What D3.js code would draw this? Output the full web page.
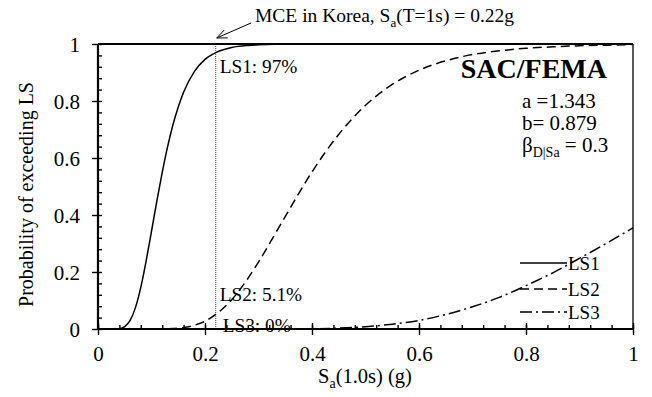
<!DOCTYPE html>
<html>
<head>
<meta charset="utf-8">
<script src="https://cdn.jsdelivr.net/npm/d3@7"></script>
<style>
  html, body { margin: 0; padding: 0; background: #fff; }
</style>
</head>
<body>
<svg id="chart" width="652" height="397"></svg>
<script>
// Sa(1.0s) grid (g) and probability of exceeding each limit state
const saGrid = [0, 0.02, 0.04, 0.05, 0.06, 0.07, 0.08, 0.09, 0.10, 0.11, 0.12, 0.13, 0.14, 0.15, 0.16, 0.18, 0.20, 0.22, 0.25, 0.28, 0.30, 0.33, 0.36, 0.40, 0.45, 0.50, 0.55, 0.60, 0.65, 0.70, 0.75, 0.80, 0.85, 0.90, 0.95, 1.00];
const ls1 = [0, 0, 0.001, 0.008, 0.030, 0.075, 0.146, 0.239, 0.343, 0.449, 0.549, 0.639, 0.716, 0.779, 0.831, 0.903, 0.946, 0.970, 0.988, 0.995, 0.997, 0.999, 1, 1, 1, 1, 1, 1, 1, 1, 1, 1, 1, 1, 1, 1];
const ls2 = [0, 0, 0, 0, 0, 0, 0, 0, 0, 0, 0.0003, 0.0008, 0.0015, 0.003, 0.005, 0.013, 0.027, 0.051, 0.103, 0.177, 0.235, 0.330, 0.427, 0.551, 0.683, 0.785, 0.858, 0.908, 0.941, 0.963, 0.976, 0.985, 0.990, 0.994, 0.996, 0.998];
const ls3 = [0, 0, 0, 0, 0, 0, 0, 0, 0, 0, 0, 0, 0, 0, 0, 0, 0, 0, 0, 0, 0, 0.0002, 0.0004, 0.001, 0.003, 0.008, 0.017, 0.030, 0.051, 0.078, 0.111, 0.152, 0.197, 0.248, 0.300, 0.355];

const seriesNames = ['LS1', 'LS2', 'LS3'];
const xTicks = [0, 0.2, 0.4, 0.6, 0.8, 1];
const yTicks = [0, 0.2, 0.4, 0.6, 0.8, 1];
const minorTicks = d3.range(0, 26).map(i => +(i * 0.04).toFixed(2));

const mceSa = 0.22;
const mceLabels = ['LS1: 97%', 'LS2: 5.1%', 'LS3: 0%'];

const FONT = 'Liberation Serif';

const svg = d3.select('#chart');
const x = d3.scaleLinear().domain([0, 1]).range([98, 633]);
const y = d3.scaleLinear().domain([0, 1]).range([329, 44]);

const dashes = ['none', '9,5', '12,4,2,4'];
const values = [ls1, ls2, ls3];

// dotted marker at MCE
svg.append('line')
  .attr('x1', x(mceSa)).attr('x2', x(mceSa))
  .attr('y1', y(1)).attr('y2', y(0))
  .attr('stroke', '#444').attr('stroke-width', 1)
  .attr('stroke-dasharray', '1,1');

// curves
const line = d3.line()
  .x(d => x(d[0]))
  .y(d => y(d[1]))
  .curve(d3.curveMonotoneX);

values.forEach((vals, i) => {
  svg.append('path')
    .datum(saGrid.map((s, j) => [s, vals[j]]))
    .attr('fill', 'none')
    .attr('stroke', '#000')
    .attr('stroke-width', 1.5)
    .attr('stroke-dasharray', dashes[i])
    .attr('d', line);
});

// frame: top and right
svg.append('line').attr('x1', x(0)).attr('x2', x(1)).attr('y1', y(1)).attr('y2', y(1))
  .attr('stroke', '#000').attr('stroke-width', 2);
svg.append('line').attr('x1', x(1)).attr('x2', x(1)).attr('y1', y(1)).attr('y2', y(0))
  .attr('stroke', '#000').attr('stroke-width', 1.3);

// axes: major ticks cross the axis, minor ticks point inward
const yAxis = svg.append('g')
  .attr('transform', `translate(${x(0)},0)`)
  .call(d3.axisLeft(y).tickValues(yTicks).tickSize(6).tickPadding(12).tickFormat(d3.format('')));
const yMinor = svg.append('g')
  .attr('transform', `translate(${x(0)},0)`)
  .call(d3.axisRight(y).tickValues(minorTicks).tickSize(4).tickFormat(''));
const xAxis = svg.append('g')
  .attr('transform', `translate(0,${y(0)})`)
  .call(d3.axisBottom(x).tickValues(xTicks).tickSize(6).tickPadding(11).tickFormat(d3.format('')));
const xMinor = svg.append('g')
  .attr('transform', `translate(0,${y(0)})`)
  .call(d3.axisTop(x).tickValues(minorTicks).tickSize(4).tickFormat(''));
const xMajorUp = svg.append('g')
  .attr('transform', `translate(0,${y(0)})`)
  .call(d3.axisTop(x).tickValues(xTicks).tickSize(6).tickFormat(''));

[yAxis, yMinor, xAxis, xMinor, xMajorUp].forEach(g => {
  g.attr('font-family', FONT).attr('font-size', 21);
  g.select('.domain').attr('stroke-width', 2.2);
  g.selectAll('.tick line').attr('stroke-width', 1.4);
});
yAxis.selectAll('.tick text').attr('dy', '0.34em');
yAxis.select('.domain').attr('d', `M0,${y(1)}V${y(0)}`);
yMinor.select('.domain').remove();
xMinor.select('.domain').remove();
xMajorUp.select('.domain').remove();
xAxis.select('.domain').attr('d', `M${x(0)},0H${x(1)}`);

// axis titles
svg.append('text')
  .attr('transform', `translate(33,${(y(0) + y(1)) / 2 + 8}) rotate(-90)`)
  .attr('text-anchor', 'middle')
  .attr('font-family', FONT).attr('font-size', 20)
  .text('Probability of exceeding LS');

const xt = svg.append('text')
  .attr('x', 365).attr('y', 383)
  .attr('text-anchor', 'middle')
  .attr('font-family', FONT).attr('font-size', 20.5);
xt.append('tspan').text('S');
xt.append('tspan').attr('dy', 5).attr('font-size', 14).text('a');
xt.append('tspan').attr('dy', -5).text('(1.0s) (g)');

// MCE annotation with arrow
const ann = svg.append('text')
  .attr('x', 255).attr('y', 22)
  .attr('font-family', FONT).attr('font-size', 19.5);
ann.append('tspan').text('MCE in Korea, S');
ann.append('tspan').attr('dy', 5).attr('font-size', 13).text('a');
ann.append('tspan').attr('dy', -5).text('(T=1s) = 0.22g');

const tip = [x(mceSa) + 1, y(1) - 6];
const tail = [251, 23];
const ang = Math.atan2(tail[1] - tip[1], tail[0] - tip[0]);
const hl = 11, ha = 0.4;
svg.append('path')
  .attr('fill', 'none').attr('stroke', '#000').attr('stroke-width', 1)
  .attr('d', `M${tail[0]},${tail[1]}L${tip[0]},${tip[1]}` +
    `M${tip[0] + hl * Math.cos(ang + ha)},${tip[1] + hl * Math.sin(ang + ha)}L${tip[0]},${tip[1]}` +
    `L${tip[0] + hl * Math.cos(ang - ha)},${tip[1] + hl * Math.sin(ang - ha)}`);

// values at MCE
const mceY = [73, 301, 332];
mceLabels.forEach((t, i) => {
  svg.append('text')
    .attr('x', x(mceSa) + (i === 2 ? 7 : 4))
    .attr('y', mceY[i])
    .attr('font-family', FONT).attr('font-size', 19.3)
    .text(t);
});

// SAC/FEMA block
svg.append('text')
  .attr('x', 607).attr('y', 78)
  .attr('text-anchor', 'end')
  .attr('font-family', FONT).attr('font-size', 28).attr('font-weight', 'bold')
  .text('SAC/FEMA');
svg.append('text').attr('x', 522).attr('y', 108).attr('font-family', FONT).attr('font-size', 21).text('a =1.343');
svg.append('text').attr('x', 522).attr('y', 130).attr('font-family', FONT).attr('font-size', 21).text('b= 0.879');
const beta = svg.append('text').attr('x', 522).attr('y', 152).attr('font-family', FONT).attr('font-size', 21);
beta.append('tspan').text('β');
beta.append('tspan').attr('dy', 5).attr('font-size', 14).text('D|Sa');
beta.append('tspan').attr('dy', -5).text(' = 0.3');

// legend
const legY = [263, 289, 312];
seriesNames.forEach((name, i) => {
  svg.append('line')
    .attr('x1', 520).attr('x2', 567)
    .attr('y1', legY[i]).attr('y2', legY[i])
    .attr('stroke', '#000').attr('stroke-width', 1.5)
    .attr('stroke-dasharray', dashes[i]);
  svg.append('text')
    .attr('x', 568).attr('y', legY[i] + 7)
    .attr('font-family', FONT).attr('font-size', 19)
    .text(name);
});
</script>
</body>
</html>
